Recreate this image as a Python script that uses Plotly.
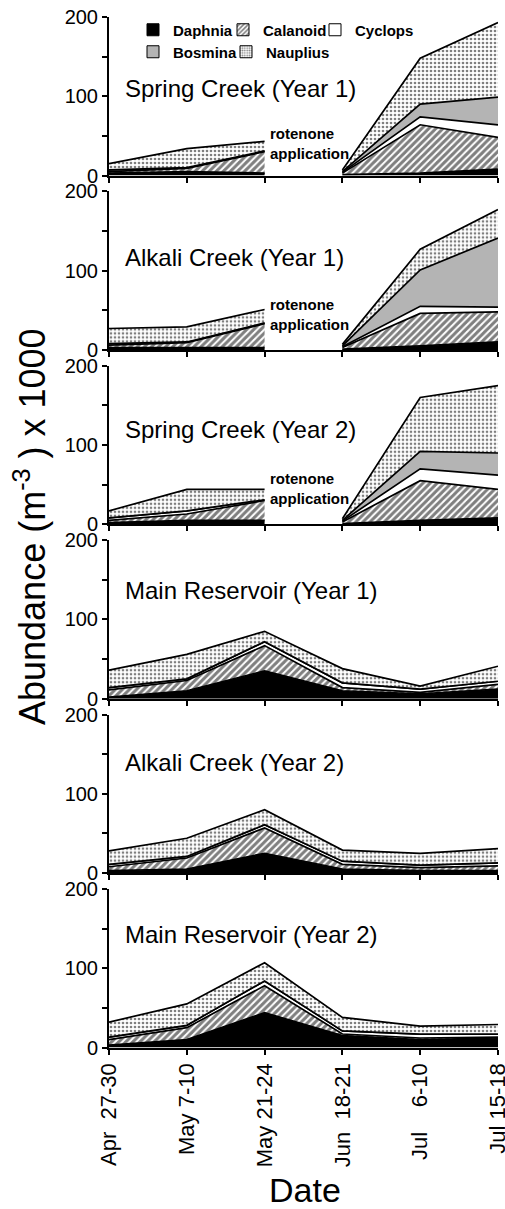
import plotly.graph_objects as go

# ---------------- data ----------------
dates = ["Apr\u00a0\u00a027-30", "May 7-10", "May 21-24", "Jun\u00a0\u00a018-21",
         "Jul\u00a0\u00a0\u00a0\u00a06-10", "Jul 15-18"]
species = ["Daphnia", "Calanoid", "Cyclops", "Bosmina", "Nauplius"]

panel_titles = ["Spring Creek (Year 1)", "Alkali Creek (Year 1)", "Spring Creek (Year 2)",
                "Main Reservoir (Year 1)", "Alkali Creek (Year 2)", "Main Reservoir (Year 2)"]
rotenone_gap = [True, True, True, False, False, False]

spring_y1 = {"Daphnia": [3, 5, 3, 1, 3, 8],
             "Calanoid": [2, 4, 27, 2, 61, 40],
             "Cyclops": [2, 1, 1, 1, 10, 16],
             "Bosmina": [0, 0, 0, 1, 16, 35],
             "Nauplius": [8, 24, 12, 2, 58, 94]}
alkali_y1 = {"Daphnia": [3, 3, 3, 1, 5, 10],
             "Calanoid": [3, 6, 30, 2, 41, 38],
             "Cyclops": [2, 1, 1, 1, 9, 6],
             "Bosmina": [0, 0, 0, 1, 46, 87],
             "Nauplius": [19, 19, 17, 2, 26, 36]}
spring_y2 = {"Daphnia": [2, 5, 5, 1, 5, 8],
             "Calanoid": [3, 8, 25, 2, 50, 36],
             "Cyclops": [3, 4, 1, 1, 15, 18],
             "Bosmina": [0, 0, 0, 1, 22, 28],
             "Nauplius": [9, 27, 13, 2, 68, 85]}
main_y1 = {"Daphnia": [2, 10, 35, 10, 6, 12],
           "Calanoid": [9, 13, 32, 4, 2, 6],
           "Cyclops": [3, 2, 5, 6, 4, 4],
           "Bosmina": [0, 0, 0, 0, 0, 0],
           "Nauplius": [22, 31, 13, 18, 4, 19]}
alkali_y2 = {"Daphnia": [3, 5, 25, 5, 3, 3],
             "Calanoid": [5, 14, 32, 6, 4, 6],
             "Cyclops": [3, 2, 4, 4, 3, 4],
             "Bosmina": [0, 0, 0, 0, 0, 0],
             "Nauplius": [17, 23, 19, 14, 15, 18]}
main_y2 = {"Daphnia": [3, 10, 44, 15, 10, 12],
           "Calanoid": [7, 15, 34, 2, 2, 1],
           "Cyclops": [3, 3, 6, 4, 5, 4],
           "Bosmina": [0, 0, 0, 0, 0, 0],
           "Nauplius": [19, 27, 23, 17, 10, 12]}

panels = [spring_y1, alkali_y1, spring_y2, main_y1, alkali_y2, main_y2]
title_y = [110, 116, 120, 137, 140, 142]
rotenone_y = [40, 45, 45]
y_major = [0, 100, 200]
y_minor = [50, 150]

# ---------------- styles ----------------
FONT = "Arial, Liberation Sans, sans-serif"
fills = {
    "Daphnia": dict(fillcolor="black"),
    "Calanoid": dict(fillcolor="white",
                     fillpattern=dict(shape="/", fgcolor="black", bgcolor="white", size=5, solidity=0.6)),
    "Cyclops": dict(fillcolor="white"),
    "Bosmina": dict(fillcolor="#b4b4b4"),
    "Nauplius": dict(fillcolor="white",
                     fillpattern=dict(shape=".", fgcolor="black", bgcolor="white", size=4, solidity=0.35)),
}
bar_markers = {
    "Daphnia": dict(color="black"),
    "Calanoid": dict(color="white", pattern=dict(shape="/", fgcolor="black", bgcolor="white", size=4, solidity=0.5)),
    "Cyclops": dict(color="white"),
    "Bosmina": dict(color="#b4b4b4"),
    "Nauplius": dict(color="white", pattern=dict(shape=".", fgcolor="black", bgcolor="white", size=3, solidity=0.4)),
}
legend_names = ["legend", "legend2", "legend3", "legend4", "legend5"]
# legend box left edges (px) and vertical centre (px) for each entry
legend_px_x = [133, 223, 315, 133, 226]
legend_px_y = [30, 30, 30, 52, 52]

fig = go.Figure()

for r, data in enumerate(panels, start=1):
    xa = "x" if r == 1 else f"x{r}"
    ya = "y" if r == 1 else f"y{r}"
    segs = [(0, 3), (3, 6)] if rotenone_gap[r - 1] else [(0, 6)]
    for si, (a, b) in enumerate(segs):
        for sp in species:
            fig.add_trace(go.Scatter(
                x=dates[a:b], y=data[sp][a:b], xaxis=xa, yaxis=ya,
                mode="lines", stackgroup=f"p{r}s{si}",
                line=dict(color="black", width=1.7),
                showlegend=False, hoverinfo="skip", **fills[sp]))

# legend entries
for i, sp in enumerate(species):
    fig.add_trace(go.Bar(
        x=[None], y=[None], name=sp, xaxis="x", yaxis="y",
        marker=dict(line=dict(color="black", width=1), **bar_markers[sp]),
        legend=legend_names[i], showlegend=True))

# ---------------- layout ----------------
W, H = 505, 1209
ml, mr, mt, mb = 109, 7, 17, 161
plot_w = W - ml - mr
plot_h = H - mt - mb
pitch, ph = 174.4, 158.5

layout = dict(
    width=W, height=H, autosize=False,
    margin=dict(l=ml, r=mr, t=mt, b=mb, autoexpand=False),
    paper_bgcolor="white", plot_bgcolor="white",
    font=dict(family=FONT, color="black"),
    barmode="overlay",
)
for r in range(1, 7):
    top = mt + (r - 1) * pitch
    bot = top + ph
    dom = [1 - (bot - mt) / plot_h, 1 - (top - mt) / plot_h]
    xk = "xaxis" if r == 1 else f"xaxis{r}"
    yk = "yaxis" if r == 1 else f"yaxis{r}"
    layout[xk] = dict(
        type="category", categoryorder="array", categoryarray=dates,
        range=[0, 5], domain=[0, 1], anchor="y" if r == 1 else f"y{r}",
        showline=True, linecolor="black", linewidth=2, mirror=False,
        ticks="outside", ticklen=5, tickwidth=1.5, tickcolor="black",
        showgrid=False, zeroline=False, fixedrange=True, automargin=False,
        showticklabels=(r == 6), tickangle=-90, ticklabeloverflow="allow",
        tickfont=dict(size=22, family=FONT, color="black"),
    )
    layout[yk] = dict(
        range=[0, 200], domain=dom, anchor="x" if r == 1 else f"x{r}",
        tickmode="array", tickvals=y_major,
        minor=dict(tickmode="array", tickvals=y_minor, ticks="outside", ticklen=5,
                   tickwidth=1.5, tickcolor="black", showgrid=False),
        showline=True, linecolor="black", linewidth=2,
        ticks="outside", ticklen=5, tickwidth=1.5, tickcolor="black",
        showgrid=False, zeroline=False, fixedrange=True, automargin=False,
        tickfont=dict(size=20, family=FONT, color="black"),
    )

for i, ln in enumerate(legend_names):
    layout[ln] = dict(
        orientation="h",
        x=(legend_px_x[i] - ml) / plot_w, y=1 - (legend_px_y[i] - mt) / plot_h,
        xanchor="left", yanchor="middle",
        bgcolor="rgba(0,0,0,0)", borderwidth=0,
        font=dict(size=15, family=FONT, color="black", weight="bold"),
        itemwidth=30, tracegroupgap=0,
    )

annotations = []
for r in range(1, 7):
    sfx = "" if r == 1 else str(r)
    annotations.append(dict(
        text=panel_titles[r - 1], xref=f"x{sfx} domain", yref=f"y{sfx}",
        x=0.035, y=title_y[r - 1], xanchor="left", yanchor="middle",
        showarrow=False, font=dict(size=24, family=FONT, color="black")))
    if rotenone_gap[r - 1]:
        annotations.append(dict(
            text="rotenone<br>application", xref=f"x{sfx} domain", yref=f"y{sfx}",
            x=0.41, y=rotenone_y[r - 1], xanchor="left", yanchor="middle", align="left",
            showarrow=False, font=dict(size=15, family=FONT, color="black", weight="bold")))

annotations.append(dict(
    text="Abundance (m<sup>-3</sup> ) x 1000", xref="paper", yref="paper",
    x=(30 - ml) / plot_w, y=1 - (527 - mt) / plot_h, xanchor="center", yanchor="middle",
    textangle=-90, showarrow=False, font=dict(size=36, family=FONT, color="black")))
annotations.append(dict(
    text="Date", xref="paper", yref="paper",
    x=(305 - ml) / plot_w, y=1 - (1190 - mt) / plot_h, xanchor="center", yanchor="middle",
    showarrow=False, font=dict(size=34, family=FONT, color="black")))
layout["annotations"] = annotations

fig.update_layout(**layout)
fig.write_html("out.html", config={"displayModeBar": False},
               post_script="document.body.style.margin='0px';document.body.style.overflow='hidden';")
